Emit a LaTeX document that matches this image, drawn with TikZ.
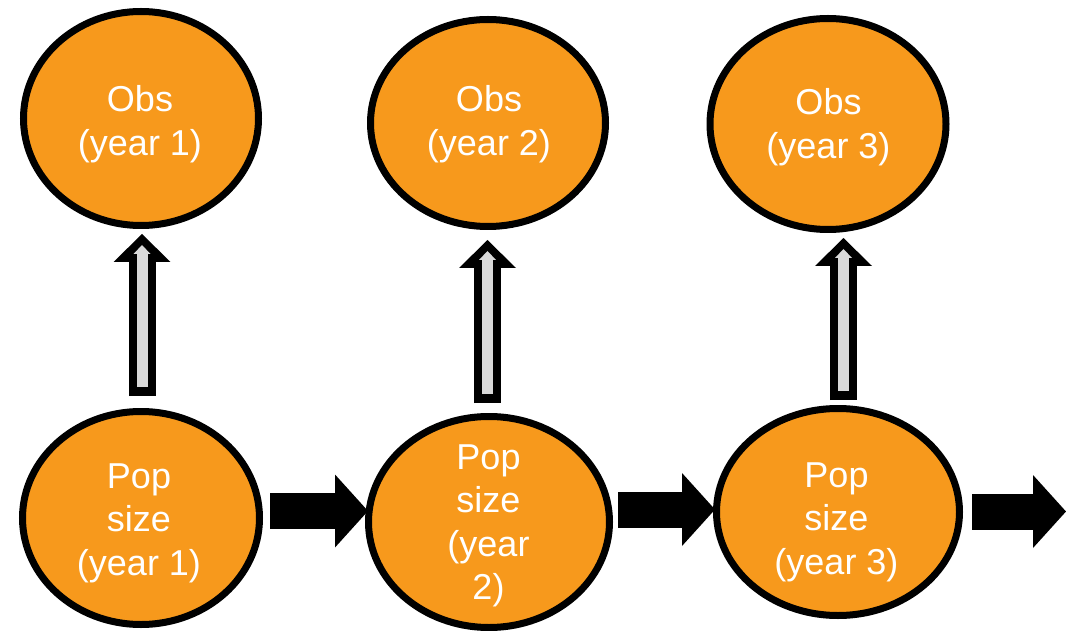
\documentclass[tikz,border=0pt]{standalone}
\usepackage{fontspec}
\setmainfont{Liberation Sans}
\usetikzlibrary{arrows.meta,shapes.geometric,calc}
\definecolor{orng}{HTML}{F7991C}
\definecolor{lgray}{HTML}{D9D9D9}
\begin{document}
\begin{tikzpicture}[x=1pt,y=1pt,
  blob/.style={ellipse, draw=black, line width=7pt, fill=orng, inner sep=0pt},
  txt/.style={text=white, font=\fontsize{36}{43.5}\selectfont, align=center, inner sep=0pt},
  fat/.style={line width=36pt, black, -{Triangle[length=33pt,width=73pt,line width=0pt]}},
  obsouter/.style={line width=27pt, black, -{Triangle[length=28pt,width=57pt,line width=0pt]}},
  obsinner/.style={line width=11pt, lgray, -{Triangle[length=9pt,width=17pt,line width=0pt]}}]
\useasboundingbox (0,0) rectangle (1066,-631);
% observation ellipses
\node[blob, minimum width=235pt, minimum height=214pt] (o1) at (141,-118.5) {};
\node[blob, minimum width=235pt, minimum height=207pt] (o2) at (488,-123) {};
\node[blob, minimum width=236pt, minimum height=211pt] (o3) at (828,-124) {};
% population ellipses
\node[blob, minimum width=237pt, minimum height=213pt] (p1) at (141,-518) {};
\node[blob, minimum width=241pt, minimum height=211pt] (p2) at (489,-522) {};
\node[blob, minimum width=243pt, minimum height=207pt] (p3) at (838,-512) {};
% texts
\node[txt] (to1) at (140,-124) {Obs\\(year 1)};
\node[txt] (to2) at (489,-124) {Obs\\(year 2)};
\node[txt] (to3) at (828.5,-127) {Obs\\(year 3)};
\node[txt] (tp1) at (139,-523) {Pop\\size\\(year 1)};
\node[txt] (tp2) at (488.5,-526) {Pop\\size\\(year\\2)};
\node[txt] (tp3) at (836.5,-522) {Pop\\size\\(year 3)};
% hollow up arrows
\draw[obsouter] ($(p1.north)+(1,12)$) -- ($(o1.south)+(1,-5)$);
\draw[obsinner] ($(p1.north)+(1,21)$) -- ($(o1.south)+(1,-16)$);
\draw[obsouter] ($(p2.north)+(-1.5,10)$) -- ($(o2.south)+(-0.5,-10)$);
\draw[obsinner] ($(p2.north)+(-1.5,19)$) -- ($(o2.south)+(-0.5,-21)$);
\draw[obsouter] ($(p3.north)+(5.5,5)$) -- ($(o3.south)+(15.5,-5)$);
\draw[obsinner] ($(p3.north)+(5.5,14)$) -- ($(o3.south)+(15.5,-16)$);
% solid right arrows
\coordinate (end) at (1066,-511.5);
\draw[fat] ($(p1.east)+(7,7)$) -- ($(p2.west)+(3,11)$);
\draw[fat] ($(p2.east)+(5,12.5)$) -- ($(p3.west)+(2,2.5)$);
\draw[fat] ($(p3.east)+(9,0.5)$) -- (end);
\end{tikzpicture}
\end{document}
